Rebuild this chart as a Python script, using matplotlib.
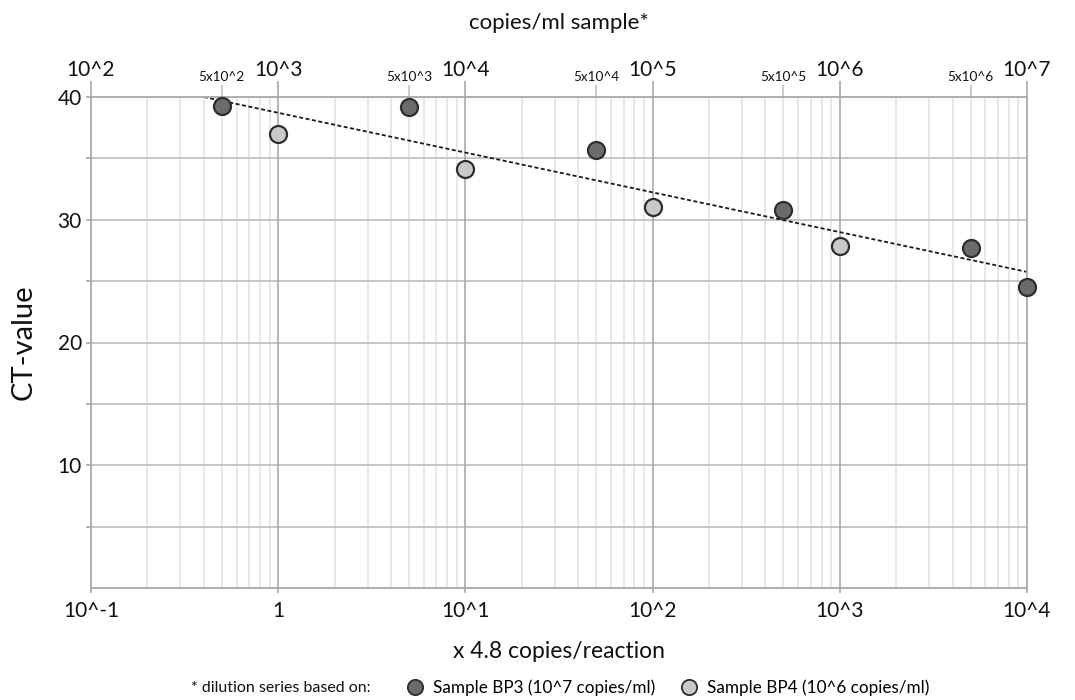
import matplotlib
matplotlib.use("Agg")
import matplotlib.pyplot as plt
from matplotlib.lines import Line2D
from matplotlib.ticker import FixedLocator, FixedFormatter, NullFormatter
import numpy as np

plt.rcParams['font.family'] = ['Lato', 'DejaVu Sans']

# --- data ---
bp3_x = [0.5, 5, 50, 500, 5000, 10000]
bp3_ct = [39.3, 39.2, 35.7, 30.8, 27.7, 24.5]
bp4_x = [1, 10, 100, 1000]
bp4_ct = [37.0, 34.1, 31.0, 27.9]

bottom_ticks = [0.1, 1, 10, 100, 1000, 10000]
bottom_labels = ['10^-1', '1', '10^1', '10^2', '10^3', '10^4']
top_major = [1e2, 1e3, 1e4, 1e5, 1e6, 1e7]
top_major_labels = ['10^2', '10^3', '10^4', '10^5', '10^6', '10^7']
top_minor = [5e2, 5e3, 5e4, 5e5, 5e6]
top_minor_labels = ['5x10^2', '5x10^3', '5x10^4', '5x10^5', '5x10^6']
factor_top = 1000   # copies/ml sample vs. x4.8 copies/reaction

dark = '#6b6b6b'
light = '#c9c9c9'
edge = '#2e2e2e'

fig = plt.figure(figsize=(10.75, 7), dpi=100)
ax = fig.add_axes([91/1075, 1-588/700, (1027-91)/1075, (588-97)/700])

ax.set_xscale('log')
ax.set_xlim(0.1, 1e4)
ax.set_ylim(0, 40)

# grid
minor_x = [m * 10.0**e for e in range(-1, 4) for m in range(2, 10)]
for xv in minor_x:
    ax.axvline(xv, color='#e2e2e2', lw=1.1, zorder=0)
for xv in bottom_ticks[1:-1]:
    ax.axvline(xv, color='#a3a3a3', lw=1.1, zorder=0.5)
for yv in range(5, 40, 5):
    ax.axhline(yv, color='#c2c2c2', lw=1.3, zorder=0.4)

for s in ax.spines.values():
    s.set_color('#a8a8a8')
    s.set_linewidth(1.3)

# trend line: log-linear fit of all points, drawn from CT=40 to 10^4
all_x = np.array(bp3_x + bp4_x, dtype=float)
all_ct = np.array(bp3_ct + bp4_ct)
slope, icpt = np.polyfit(np.log10(all_x), all_ct, 1)
lx0 = (40 - icpt) / slope
lx = np.array([lx0, 4.0])
ax.plot(10**lx, slope * lx + icpt, color='#1a1a1a', lw=1.3,
        linestyle=(0, (2.2, 1.4)), zorder=2)

ax.scatter(bp3_x, bp3_ct, s=150, color=dark, edgecolor=edge, linewidth=1.6,
           zorder=3, clip_on=False)
ax.scatter(bp4_x, bp4_ct, s=150, color=light, edgecolor=edge, linewidth=1.6,
           zorder=3, clip_on=False)

# bottom axis
ax.xaxis.set_major_locator(FixedLocator(bottom_ticks))
ax.xaxis.set_major_formatter(FixedFormatter(bottom_labels))
ax.xaxis.set_minor_locator(FixedLocator(minor_x))
ax.xaxis.set_minor_formatter(NullFormatter())
ax.tick_params(axis='x', which='major', length=3.6, color='#a8a8a8', width=1.2,
               labelsize=15, pad=6, labelcolor='#111111')
ax.tick_params(axis='x', which='minor', length=0)

# y axis
ax.set_yticks([10, 20, 30, 40])
ax.set_yticks(range(5, 40, 5), minor=True)
ax.tick_params(axis='y', which='both', length=3.6, color='#a8a8a8', width=1.2,
               labelsize=15, pad=3, labelcolor='#111111')
ax.set_ylabel('CT-value', fontsize=21, labelpad=15, color='#111111')

ax.set_xlabel('x 4.8 copies/reaction', fontsize=16.5, labelpad=14, color='#111111')

# top axis
top = ax.secondary_xaxis('top', functions=(lambda v: v * factor_top,
                                          lambda v: v / factor_top))
top.xaxis.set_major_locator(FixedLocator(top_major))
top.xaxis.set_major_formatter(FixedFormatter(top_major_labels))
top.xaxis.set_minor_locator(FixedLocator(top_minor))
top.xaxis.set_minor_formatter(FixedFormatter(top_minor_labels))
top.tick_params(axis='x', which='major', length=11.5, color='#a8a8a8', width=1.2,
                labelsize=15, pad=1, labelcolor='#111111')
top.tick_params(axis='x', which='minor', length=8.6, color='#c2c2c2', width=1.2,
                labelsize=9.8, pad=1.5, labelcolor='#111111')
top.spines['top'].set_visible(False)
top.set_xlabel('copies/ml sample*', fontsize=16, labelpad=22, color='#111111')

# footnote legend
fig.text(371/1075, 1-688/700, '* dilution series based on:', fontsize=11.5,
         ha='right', va='center', color='#111111')
handles = [Line2D([], [], ls='', marker='o', ms=11, mfc=dark, mec=edge, mew=1.3),
           Line2D([], [], ls='', marker='o', ms=11, mfc=light, mec=edge, mew=1.3)]
fig.legend(handles, ['Sample BP3 (10^7 copies/ml)', 'Sample BP4 (10^6 copies/ml)'],
           loc='center left', bbox_to_anchor=(398/1075, 1-688/700), ncol=2,
           frameon=False, fontsize=12.3, handletextpad=0.05, columnspacing=1.0,
           borderaxespad=0, borderpad=0)

fig.savefig('out.png', dpi=100, facecolor='white')
